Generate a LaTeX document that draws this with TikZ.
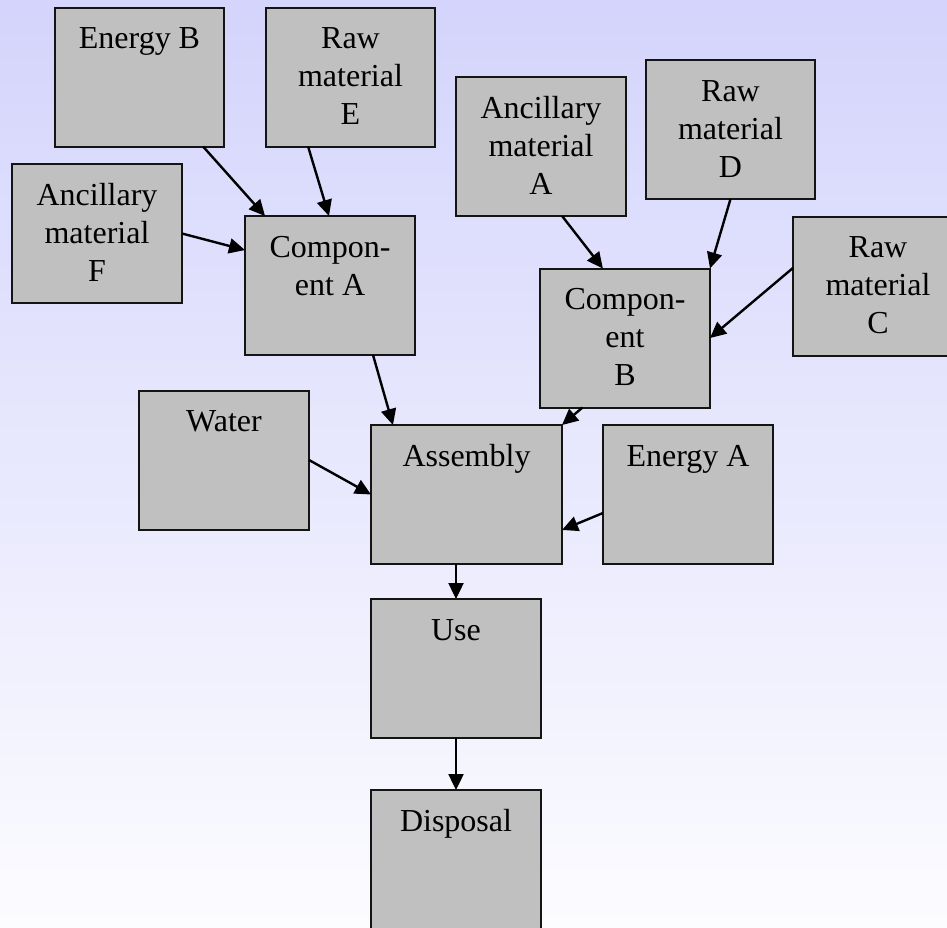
\documentclass[tikz,border=0pt]{standalone}
\usepackage{fontspec}
\setmainfont{Liberation Serif}
\usetikzlibrary{arrows.meta,calc}

\definecolor{boxgray}{RGB}{192,192,192}
\definecolor{edgeink}{RGB}{20,20,20}
\definecolor{skytop}{RGB}{212,212,252}
\definecolor{skybottom}{RGB}{252,252,255}

% box label: text hangs from the top of a fixed-size box
\newcommand\boxlabel[2]{\parbox[c][139pt][t]{#1}{\centering\rule{0pt}{41pt}#2}}

\tikzset{
  stagebox/.style={draw=edgeink, line width=2pt, fill=boxgray,
    inner sep=0pt, outer sep=0pt, font=\fontsize{32}{38}\selectfont},
  flow/.style={draw=black, line width=2.4pt,
    -{Triangle[length=16pt,width=15pt]}, shorten >=0pt}
}

\begin{document}
\begin{tikzpicture}[x=1pt,y=-1pt]
\useasboundingbox (0,0) rectangle (947,927);
\clip (0,0) rectangle (947,927);
\shade[top color=skytop, bottom color=skybottom] (0,0) rectangle (947,927);

% inputs for component A
\node[stagebox] (eb) at (139.5,77) {\boxlabel{169pt}{Energy B}};
\node[stagebox] (re) at (350.5,77) {\boxlabel{169pt}{Raw\\material\\E}};
\node[stagebox] (af) at (97,233.5) {\boxlabel{170pt}{Ancillary\\material\\F}};
\node[stagebox] (ca) at (330,285.5) {\boxlabel{170pt}{Compon-\\ent A}};

% inputs for component B
\node[stagebox] (aa) at (541,146.5) {\boxlabel{170pt}{Ancillary\\material\\A}};
\node[stagebox] (rd) at (730.5,129.5) {\boxlabel{169pt}{Raw\\material\\D}};
\node[stagebox] (rc) at (878,286) {\boxlabel{170pt}{Raw\\material\\C}};
\node[stagebox] (cb) at (625,338) {\boxlabel{170pt}{Compon-\\ent\\B}};

% assembly and downstream
\node[stagebox] (wa) at (224,460) {\boxlabel{170pt}{Water}};
\node[stagebox] (as) at (466.5,494.5) {\boxlabel{191pt}{Assembly}};
\node[stagebox] (ea) at (688,494.5) {\boxlabel{170pt}{Energy A}};
\node[stagebox] (us) at (456,668.5) {\boxlabel{170pt}{Use}};
\node[stagebox] (di) at (456,859.5) {\boxlabel{170pt}{Disposal}};

% flows into component A
\draw[flow] ($(eb.south west)!0.876!(eb.south east)$) -- ($(ca.north west)!0.118!(ca.north east)$);
\draw[flow] ($(re.south west)!0.249!(re.south east)$) -- ($(ca.north west)!0.494!(ca.north east)$);
\draw[flow] (af.east) -- ($(ca.north west)!0.245!(ca.south west)$);

% flows into component B
\draw[flow] ($(aa.south west)!0.624!(aa.south east)$) -- ($(cb.north west)!0.37!(cb.north east)$);
\draw[flow] (rd.south) -- (cb.north east);
\draw[flow] ($(rc.north west)!0.37!(rc.south west)$) -- (cb.east);

% flows into assembly
\draw[flow] ($(ca.south west)!0.753!(ca.south east)$) -- ($(as.north west)!0.115!(as.north east)$);
\draw[flow] ($(cb.south west)!0.25!(cb.south east)$) -- (as.north east);
\draw[flow] (wa.east) -- (as.west);
\draw[flow] ($(ea.north west)!0.633!(ea.south west)$) -- ($(as.north east)!0.755!(as.south east)$);

% downstream chain
\draw[flow] (us.north |- as.south) -- (us.north);
\draw[flow] (us.south) -- (di.north);
\end{tikzpicture}
\end{document}
